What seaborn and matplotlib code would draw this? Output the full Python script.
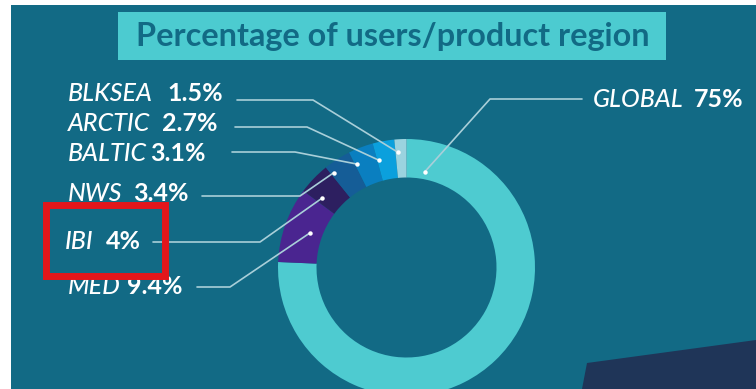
import matplotlib
matplotlib.use("Agg")
import matplotlib.pyplot as plt
import numpy as np
import seaborn as sns
from matplotlib.patches import Rectangle, Polygon

# ---- data ----
regions = ["GLOBAL", "MED", "IBI", "NWS", "BALTIC", "ARCTIC", "BLKSEA"]
shares = [75, 9.4, 4, 3.4, 3.1, 2.7, 1.5]
value_labels = ["75%", "9.4%", "4%", "3.4%", "3.1%", "2.7%", "1.5%"]
colors = ["#4ecbd0", "#4a2590", "#2d1f60", "#155d97", "#0a7fc0", "#0ba0dd", "#9bd3df"]

title = "Percentage of users/product region"

sns.set_theme(style="white")
plt.rcParams["font.family"] = ["Lato", "DejaVu Sans"]

W, H = 756, 389
BG = "#126a85"
BOX = "#4ccbd0"
LINE = "#a9cfd9"

fig = plt.figure(figsize=(W / 100, H / 100), dpi=100, facecolor="white")
ax = fig.add_axes([0, 0, 1, 1])


def Y(y):
    # pixel row (from top) -> data y
    return H - y


# background panel and decorative corner shape
ax.add_patch(Rectangle((11, 0), W - 11, Y(5), facecolor=BG, edgecolor="none", zorder=0))
ax.add_patch(Polygon([(587, Y(363)), (W, Y(340)), (W, 0), (582, 0)],
                     closed=True, facecolor="#1f3558", edgecolor="none", zorder=1))

# donut
cx, cy, R, ring = 406.5, Y(267.5), 128.5, 38.5
wedges, _ = ax.pie(shares, colors=colors, startangle=90, counterclock=False,
                   center=(cx, cy), radius=R,
                   wedgeprops=dict(width=ring, edgecolor="none", linewidth=0))
for w in wedges:
    w.set_zorder(2)

ax.set_xlim(0, W)
ax.set_ylim(0, H)
ax.set_aspect("equal")
ax.axis("off")

# title banner
ax.add_patch(Rectangle((118, Y(60)), 548, 48.3, facecolor=BOX, edgecolor="none", zorder=3))
ax.text(393, Y(36), title, ha="center", va="center", fontsize=23.3,
        fontweight="bold", color=BG, zorder=4)

# label layout: (name x, value x, text row, line start x, elbow x, line row,
#                position along wedge (0 = clockwise start), dot radius fraction)
layout = {
    "GLOBAL": (593, 694, 99, 582, 490, 99, 0.04, 0.76),
    "MED":    (68, 127, 287, 197, 230, 287, 0.5, 0.80),
    "IBI":    (65, 106, 241, 153, 260, 242, 0.2, 0.85),
    "NWS":    (68, 133, 193, 202, 300, 196, 0.12, 0.93),
    "BALTIC": (68, 150, 153, 232, 295, 152, 0.1, 0.89),
    "ARCTIC": (68, 162, 123, 235, 307, 127, 0.1, 0.86),
    "BLKSEA": (68, 167, 93, 237, 313, 100, 0.2, 0.90),
}

for name, val, w in zip(regions, value_labels, wedges):
    nx, vx, ty, lx0, lx1, ly, frac, rf = layout[name]
    # clockwise wedge: theta2 is where it starts
    ang = np.deg2rad(w.theta2 - frac * (w.theta2 - w.theta1))
    dx, dy = cx + rf * R * np.cos(ang), cy + rf * R * np.sin(ang)
    ax.plot([lx0, lx1, dx], [Y(ly), Y(ly), dy], color=LINE, lw=1.2,
            solid_capstyle="round", zorder=5)
    ax.plot([dx], [dy], "o", color="white", ms=3.2, mec="none", zorder=6)
    ax.text(nx, Y(ty), name, ha="left", va="center", fontsize=18,
            style="italic", fontweight=500, color="white", zorder=6)
    ax.text(vx, Y(ty), val, ha="left", va="center", fontsize=18,
            fontweight="bold", color="white", zorder=6)

# highlight frame around the IBI label
ax.add_patch(Rectangle((46, Y(276)), 119, 71.5, facecolor="none",
                       edgecolor="#e3161b", lw=5.0, zorder=7, joinstyle="miter"))

fig.savefig("out.png", dpi=100, facecolor="white")
